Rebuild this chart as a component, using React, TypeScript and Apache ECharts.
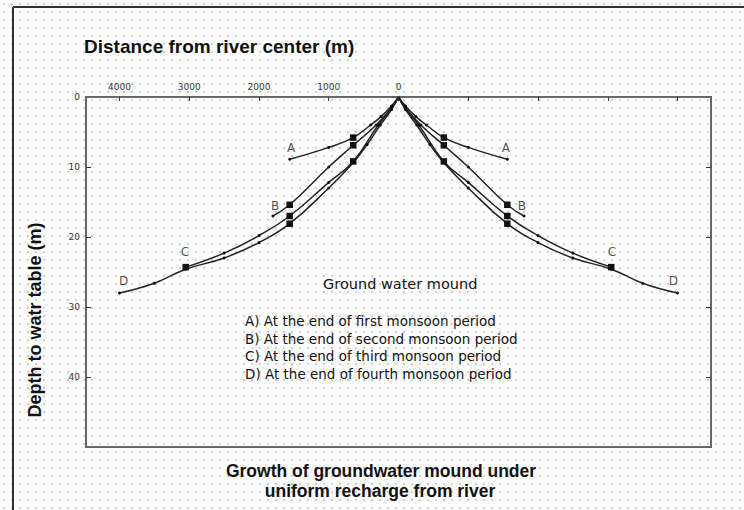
import React, { useEffect, useRef } from "react";
import * as echarts from "echarts";

// Distance from river center (m) and depth to water table (m), one half of each symmetric curve
const distA = [0, 100, 250, 400, 650, 1000, 1560];
const depthA = [0, 1.3, 2.8, 4.0, 5.8, 7.2, 8.9];
const distB = [0, 100, 320, 650, 1000, 1560, 1800];
const depthB = [0, 1.5, 4.0, 6.9, 10.0, 15.4, 17.0];
const distC = [0, 100, 290, 650, 1000, 1560, 2000, 2500, 3050];
const depthC = [0, 1.7, 4.0, 9.2, 12.2, 17.0, 19.8, 22.3, 24.3];
const distD = [0, 100, 260, 450, 650, 1000, 1560, 2000, 2500, 3050, 3500, 4000];
const depthD = [0, 1.8, 4.0, 6.8, 9.4, 13.0, 18.1, 20.8, 23.0, 24.6, 26.6, 28.0];

// Distances at which square markers are drawn, per curve
const squaresA = [650];
const squaresB = [650, 1560];
const squaresC = [650, 1560, 3050];
const squaresD = [1560];

// Curve labels (name, distance, depth) – shown on both sides
const labelNames = ["A", "B", "C", "D"];
const labelDist = [1540, 1770, 3060, 3940];
const labelDepth = [7.3, 15.5, 22.2, 26.3];

const xLabelValues = [-4000, -3000, -2000, -1000, 0];
const xTickValues = [-4000, -3000, -2000, -1000, 0, 1000, 2000, 3000, 4000];
const yLabelValues = [0, 10, 20, 30, 40];
const yTickValues = [10, 20, 30, 40];

const legendLines = [
  "A) At the end of first monsoon period",
  "B) At the end of second monsoon period",
  "C) At the end of third monsoon period",
  "D) At the end of fourth monsoon period",
];

function buildHalf(dist: number[], depth: number[], squares: number[], sign: number) {
  return dist.map((d, i) => {
    const sq = squares.indexOf(d) >= 0;
    const v = [sign * d, depth[i]];
    return sq
      ? { value: v, symbol: "rect", symbolSize: 6.5 }
      : { value: v, symbol: "circle", symbolSize: d === 0 ? 0 : 3 };
  });
}

export default function App() {
  const ref = useRef<HTMLDivElement>(null);
  useEffect(() => {
    if (!ref.current) return;
    const chart = echarts.init(ref.current, null, { renderer: "svg" });
    const defs: [number[], number[], number[]][] = [
      [distA, depthA, squaresA],
      [distB, depthB, squaresB],
      [distC, depthC, squaresC],
      [distD, depthD, squaresD],
    ];
    const curveSeries: any[] = [];
    defs.forEach(([d, y, s], i) => {
      [-1, 1].forEach((sign) => {
        curveSeries.push({
          type: "line",
          name: labelNames[i],
          data: buildHalf(d, y, s, sign),
          smooth: 0.45,
          showSymbol: true,
          lineStyle: { color: "#222", width: 1.5 },
          itemStyle: { color: "#111" },
          z: 3,
        });
      });
    });
    const labelData: any[] = [];
    labelNames.forEach((n, i) => {
      labelData.push({ value: [-labelDist[i], labelDepth[i]], name: n });
      labelData.push({ value: [labelDist[i], labelDepth[i]], name: n });
    });
    const axisColor = "#666";
    const yAxisBase = (right: boolean) => ({
      type: "value",
      inverse: true,
      position: right ? "right" : "left",
      min: 0,
      max: 50,
      interval: 10,
      axisLine: { show: true, onZero: false, lineStyle: { color: axisColor, width: 2 } },
      axisTick: { show: true, inside: true, length: 5, customValues: yTickValues, lineStyle: { color: "#333" } },
      axisLabel: right
        ? { show: false }
        : {
            show: true,
            customValues: yLabelValues,
            fontSize: 9,
            fontFamily: "DejaVu Sans",
            color: "#333",
            margin: 6,
          },
      splitLine: { show: false },
    });
    chart.setOption({
      animation: false,
      backgroundColor: "transparent",
      grid: {
        left: 86,
        top: 97,
        width: 625,
        height: 350,
        show: true,
        borderColor: "#666",
        borderWidth: 2,
        backgroundColor: "transparent",
      },
      xAxis: {
        type: "value",
        position: "top",
        min: -4480,
        max: 4480,
        axisLine: { show: true, onZero: false, lineStyle: { color: axisColor, width: 2 } },
        axisTick: {
          show: true,
          inside: true,
          length: 4,
          customValues: xTickValues,
          lineStyle: { color: "#333" },
        },
        axisLabel: {
          show: true,
          customValues: xLabelValues,
          formatter: (v: number) => String(Math.abs(v)),
          fontSize: 9,
          fontFamily: "DejaVu Sans",
          color: "#333",
          margin: 6,
        },
        splitLine: { show: false },
      },
      yAxis: [yAxisBase(false), yAxisBase(true)],
      series: [
        ...curveSeries,
        {
          type: "scatter",
          data: labelData,
          symbolSize: 0,
          label: {
            show: true,
            position: "inside",
            formatter: (p: any) => p.name,
            fontSize: 12,
            fontFamily: "DejaVu Sans",
            color: "#222",
          },
          z: 4,
        },
      ],
      graphic: [
        { type: "line", shape: { x1: 13, y1: 7, x2: 744, y2: 7 }, style: { stroke: "#333", lineWidth: 2 } },
        { type: "line", shape: { x1: 13, y1: 7, x2: 13, y2: 510 }, style: { stroke: "#333", lineWidth: 2 } },
        {
          type: "text",
          x: 84,
          y: 46,
          style: {
            text: "Distance from river center (m)",
            font: "bold 19px 'Liberation Sans', Arial, sans-serif",
            fill: "#111",
            verticalAlign: "middle",
          },
        },
        {
          type: "text",
          x: 35,
          y: 320,
          rotation: Math.PI / 2,
          style: {
            text: "Depth to watr table (m)",
            font: "bold 18px 'Liberation Sans', Arial, sans-serif",
            fill: "#111",
            align: "center",
            verticalAlign: "middle",
          },
        },
        {
          type: "text",
          x: 381,
          y: 471,
          style: {
            text: "Growth of groundwater mound under",
            font: "bold 17.5px 'Liberation Sans', Arial, sans-serif",
            fill: "#111",
            align: "center",
            verticalAlign: "middle",
          },
        },
        {
          type: "text",
          x: 380,
          y: 491,
          style: {
            text: "uniform recharge from river",
            font: "bold 17.5px 'Liberation Sans', Arial, sans-serif",
            fill: "#111",
            align: "center",
            verticalAlign: "middle",
          },
        },
        {
          type: "text",
          x: 323,
          y: 284,
          style: {
            text: "Ground water mound",
            font: "14.5px 'DejaVu Sans', sans-serif",
            fill: "#111",
            verticalAlign: "middle",
          },
        },
        ...legendLines.map((t, i) => ({
          type: "text",
          x: 245,
          y: 321 + i * 17.5,
          style: {
            text: t,
            font: "13.5px 'DejaVu Sans', sans-serif",
            fill: "#111",
            verticalAlign: "middle",
          },
        })),
      ],
    });
    return () => chart.dispose();
  }, []);
  return (
    <div
      style={{
        position: "absolute",
        left: 0,
        top: 0,
        width: 744,
        height: 510,
        backgroundColor: "#fff",
        backgroundImage: "radial-gradient(circle, #cfcfcf 0.7px, transparent 1px)",
        backgroundSize: "8px 8px",
      }}
    >
      <div ref={ref} style={{ width: 744, height: 510 }} />
    </div>
  );
}
